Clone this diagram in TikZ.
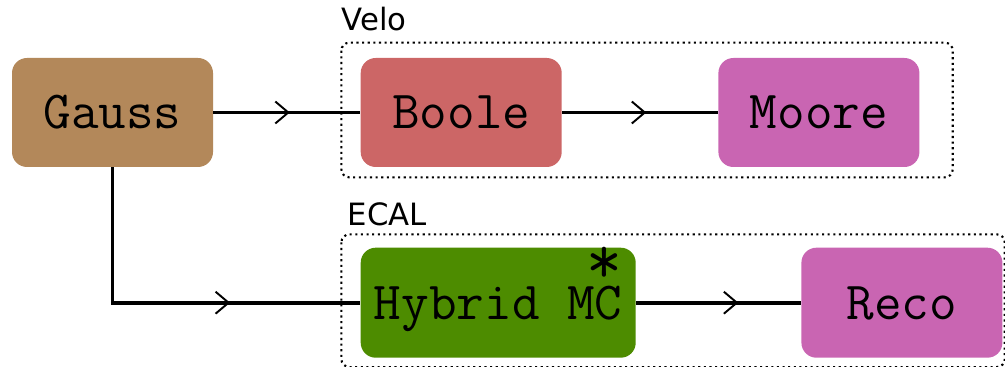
\documentclass[tikz,border=0pt]{standalone}
\usepackage{fontspec}
\setsansfont{DejaVu Sans}
\usepackage{tikz}
\usetikzlibrary{positioning,arrows.meta,calc,decorations.markings}
\definecolor{gausscol}{RGB}{179,136,90}
\definecolor{boolecol}{RGB}{204,102,102}
\definecolor{moorecol}{RGB}{201,101,178}
\definecolor{hybridcol}{RGB}{77,140,0}
\tikzstyle{flow} = [line width=2.1pt,postaction=decorate,
  decoration={markings,mark=at position #1 with
    {\arrow{Straight Barb[length=0.26cm,width=0.44cm,line width=1.1pt]}}}]

\begin{document}
\begin{tikzpicture}[
        component/.style={
            rectangle,
            rounded corners=0.3cm,
            fill=#1,
            minimum width=4.02cm,
            minimum height=2.18cm,
            text height=18.6pt,
            text depth=0pt,
            font=\fontsize{30.5}{32}\selectfont\ttfamily,
            align=center
        },
        group/.style={
            draw=black,
            dotted,
            line width=1.2pt,
            rounded corners=0.16cm
        },
        grouplabel/.style={
            anchor=south west,
            inner sep=0pt,
            font=\fontsize{17.5}{20}\selectfont\sffamily
        }
    ]
    \useasboundingbox (0,0) rectangle (20.1,-7.34);

    \node[component=gausscol] (gauss) at (2.25,-2.25) {Gauss};

    \node[component=boolecol, right=2.94cm of gauss] (boole) {Boole};

    \node[component=moorecol, right=3.12cm of boole] (moore) {Moore};

    \node[component=hybridcol, minimum width=5.5cm, minimum height=2.2cm,
        anchor=north west] (hybrid) at ([yshift=-1.6cm]boole.south west)
        {Hybrid MC\llap{\smash{\raisebox{0.66em}{\scalebox{1.3}{*}}}}};

    \node[component=moorecol, minimum height=2.2cm, right=3.3cm of hybrid] (reco) {Reco};

    % dotted groups
    \draw[group] ($(boole.north west)+(-0.38,0.3)$) coordinate (velo)
        rectangle ($(moore.south east)+(0.66,-0.2)$);
    \node[grouplabel] (velolabel) at ($(velo)+(0,0.22)$) {Velo};

    \draw[group] ($(hybrid.north west)+(-0.38,0.26)$) coordinate (ecal)
        rectangle ($(reco.south east)+(0.04,-0.18)$);
    \node[grouplabel] (ecallabel) at ($(ecal)+(0.12,0.17)$) {ECAL};

    \draw[flow=0.52] (gauss) -- (boole);
    \draw[flow=0.54] (boole) -- (moore);
    \draw[flow=0.66] (gauss.south) |- (hybrid.west);
    \draw[flow=0.62] (hybrid) -- (reco);

\end{tikzpicture}
\end{document}
